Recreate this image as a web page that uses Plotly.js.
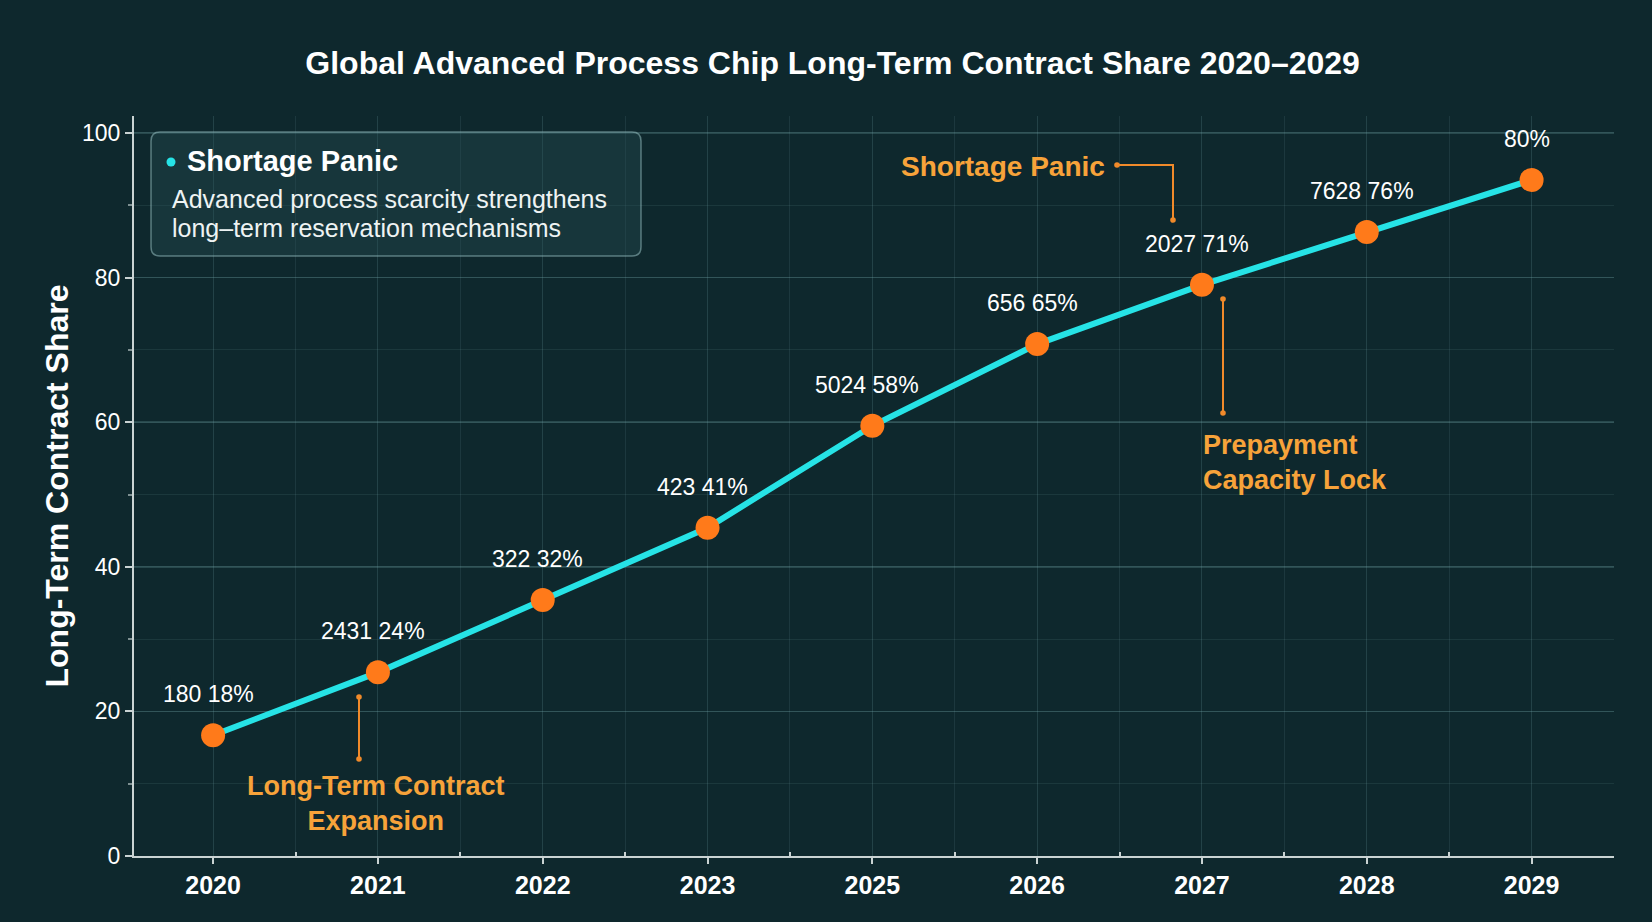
<!DOCTYPE html>
<html>
<head>
<meta charset="utf-8">
<script src="https://cdn.plot.ly/plotly-3.0.1.min.js"></script>
<style>
html,body{margin:0;padding:0;background:#0e282d;}
#chart{width:1652px;height:922px;}
</style>
</head>
<body>
<div id="chart"></div>
<script>
// ---- data ----
const years = ['2020','2021','2022','2023','2025','2026','2027','2028','2029'];
const shareValues = [16.7, 25.4, 35.4, 45.4, 59.5, 70.8, 79.0, 86.3, 93.5];
const pointLabels = ['180 18%','2431 24%','322 32%','423 41%','5024 58%','656 65%','2027 71%','7628 76%','80%'];
const yTickVals = [0, 20, 40, 60, 80, 100];

const chartTitle = 'Global Advanced Process Chip Long-Term Contract Share 2020\u20132029';
const yTitle = 'Long-Term Contract Share';
const boxHeading = 'Shortage Panic';
const boxLine1 = 'Advanced process scarcity strengthens';
const boxLine2 = 'long\u2013term reservation mechanisms';
const noteShortage = 'Shortage Panic';
const notePrepay = 'Prepayment<br>Capacity Lock';
const noteExpansion = 'Long-Term Contract<br>Expansion';

// ---- geometry helpers (pixel -> paper) ----
const W = 1652, H = 922;
const M = {l:134, r:38, t:116, b:66};
const PW = W - M.l - M.r, PH = H - M.t - M.b;
const px = x => (x - M.l) / PW;
const py = y => (H - M.b - y) / PH;

const FONT = 'Liberation Sans, Arial, Helvetica, sans-serif';
const ORANGE_TXT = '#f7a33a';
const ORANGE_LINE = '#f08a2a';
const CYAN = '#26e3e6';
const MARKER = '#ff7a1a';
const AXIS = '#c9d3d3';

function roundedRect(x0, y0, x1, y1, r) {
  const X = v => px(v).toFixed(5), Y = v => py(v).toFixed(5);
  return 'M' + X(x0 + r) + ',' + Y(y0) +
    ' L' + X(x1 - r) + ',' + Y(y0) +
    ' Q' + X(x1) + ',' + Y(y0) + ' ' + X(x1) + ',' + Y(y0 + r) +
    ' L' + X(x1) + ',' + Y(y1 - r) +
    ' Q' + X(x1) + ',' + Y(y1) + ' ' + X(x1 - r) + ',' + Y(y1) +
    ' L' + X(x0 + r) + ',' + Y(y1) +
    ' Q' + X(x0) + ',' + Y(y1) + ' ' + X(x0) + ',' + Y(y1 - r) +
    ' L' + X(x0) + ',' + Y(y0 + r) +
    ' Q' + X(x0) + ',' + Y(y0) + ' ' + X(x0 + r) + ',' + Y(y0) + ' Z';
}
function dot(cx, cy, r, color) {
  return {type:'circle', xref:'paper', yref:'paper',
    x0: px(cx - r), x1: px(cx + r), y0: py(cy + r), y1: py(cy - r),
    fillcolor: color, line:{width:0}, layer:'above'};
}
function seg(path, color) {
  return {type:'path', xref:'paper', yref:'paper', path: path,
    line:{color: color, width: 2}, layer:'above'};
}
function P(x, y) { return px(x).toFixed(5) + ',' + py(y).toFixed(5); }

// ---- traces ----
const lineTrace = {
  x: years, y: shareValues, type: 'scatter', mode: 'lines+markers',
  line: {color: CYAN, width: 6},
  marker: {size: 24, color: MARKER},
  hoverinfo: 'x+y', showlegend: false
};
const gridHelper = {
  x: years, y: shareValues, xaxis: 'x2', type: 'scatter', mode: 'markers',
  marker: {opacity: 0}, hoverinfo: 'skip', showlegend: false
};

// ---- annotations ----
// category axis annotations use the category's serial position
const annotations = years.map((yr, i) => ({
  x: years.indexOf(yr), y: shareValues[i], xref: 'x', yref: 'y',
  text: pointLabels[i], showarrow: false,
  xanchor: 'center', yanchor: 'middle', yshift: 41, xshift: -5,
  font: {family: FONT, size: 23, color: '#ffffff'}
}));
annotations.push(
  {xref:'paper', yref:'paper', x: px(185), y: py(161), xanchor:'left', yanchor:'middle',
   text: '<b>' + boxHeading + '</b>', showarrow:false,
   font:{family:FONT, size:29, color:'#ffffff'}},
  {xref:'paper', yref:'paper', x: px(170), y: py(199), xanchor:'left', yanchor:'middle',
   text: boxLine1, showarrow:false, font:{family:FONT, size:25, color:'#eef3f3'}},
  {xref:'paper', yref:'paper', x: px(170), y: py(228), xanchor:'left', yanchor:'middle',
   text: boxLine2, showarrow:false, font:{family:FONT, size:25, color:'#eef3f3'}},
  {xref:'paper', yref:'paper', x: px(1003), y: py(166), xanchor:'center', yanchor:'middle',
   text: '<b>' + noteShortage + '</b>', showarrow:false,
   font:{family:FONT, size:28, color:ORANGE_TXT}},
  {xref:'paper', yref:'paper', x: px(1201), y: py(462), xanchor:'left', yanchor:'middle',
   text: '<b>' + notePrepay + '</b>', showarrow:false, align:'left',
   font:{family:FONT, size:27, color:ORANGE_TXT}},
  {xref:'paper', yref:'paper', x: px(376), y: py(803), xanchor:'center', yanchor:'middle',
   text: '<b>' + noteExpansion + '</b>', showarrow:false, align:'center',
   font:{family:FONT, size:27, color:ORANGE_TXT}}
);

// ---- shapes ----
const shapes = [
  {type:'path', xref:'paper', yref:'paper', path: roundedRect(151, 132, 641, 256, 9),
   fillcolor:'rgba(40,80,86,0.35)', line:{color:'rgba(150,190,192,0.55)', width:1.5}, layer:'above'},
  dot(171, 162, 4.5, CYAN),
  seg('M' + P(1117,165) + ' L' + P(1173,165) + ' L' + P(1173,220), ORANGE_LINE),
  dot(1117, 165, 2.8, ORANGE_LINE), dot(1173, 220, 2.8, ORANGE_LINE),
  seg('M' + P(1223,299) + ' L' + P(1223,413), ORANGE_LINE),
  dot(1223, 299, 2.8, ORANGE_LINE), dot(1223, 413, 2.8, ORANGE_LINE),
  seg('M' + P(359,697) + ' L' + P(359,759), ORANGE_LINE),
  dot(359, 697, 2.8, ORANGE_LINE), dot(359, 759, 2.8, ORANGE_LINE)
];

const layout = {
  width: W, height: H,
  margin: M,
  paper_bgcolor: '#0e282d',
  plot_bgcolor: 'rgba(0,0,0,0)',
  font: {family: FONT, color: '#ffffff'},
  title: {text: '<b>' + chartTitle + '</b>', x: 0.504, xanchor: 'center',
          y: 1 - 63 / H, yanchor: 'middle', yref: 'container',
          font: {family: FONT, size: 32, color: '#ffffff'}},
  showlegend: false,
  xaxis: {
    type: 'category', categoryorder: 'array', categoryarray: years,
    range: [-0.48, 8.5], fixedrange: true,
    showgrid: true, gridcolor: 'rgba(120,170,175,0.20)', gridwidth: 1,
    showline: true, linecolor: AXIS, linewidth: 2,
    ticks: 'outside', ticklen: 6, tickwidth: 2, tickcolor: AXIS,
    tickfont: {family: FONT, size: 25, color: '#ffffff', weight: 'bold'},
    zeroline: false
  },
  xaxis2: {
    type: 'category', categoryorder: 'array', categoryarray: years,
    overlaying: 'x', anchor: 'y', side: 'bottom',
    range: [-0.48, 8.5], fixedrange: true, tickson: 'boundaries',
    showgrid: true, gridcolor: 'rgba(120,170,175,0.13)', gridwidth: 1,
    showline: false, showticklabels: false,
    ticks: 'inside', ticklen: 4, tickwidth: 2, tickcolor: AXIS
  },
  yaxis: {
    range: [0, 102.35], fixedrange: true,
    tickmode: 'array', tickvals: yTickVals,
    showgrid: true, gridcolor: 'rgba(120,170,175,0.25)', gridwidth: 1.5,
    showline: true, linecolor: AXIS, linewidth: 2,
    ticks: 'outside', ticklen: 7, tickwidth: 2, tickcolor: AXIS,
    tickfont: {family: FONT, size: 23, color: '#ffffff'},
    minor: {dtick: 10, tick0: 0, ticks: 'outside', ticklen: 4, tickcolor: 'rgba(200,211,211,0.6)',
            showgrid: true, gridcolor: 'rgba(120,170,175,0.12)', gridwidth: 1},
    zeroline: false,
    title: {text: '<b>' + yTitle + '</b>', standoff: 4,
            font: {family: FONT, size: 32, color: '#ffffff'}}
  },
  annotations: annotations,
  shapes: shapes
};

Plotly.newPlot('chart', [gridHelper, lineTrace], layout, {displayModeBar: false, staticPlot: true});
</script>
</body>
</html>
